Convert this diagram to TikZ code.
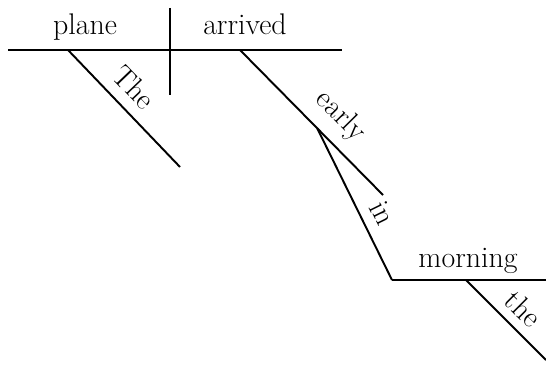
\documentclass[tikz,border=0pt]{standalone}
\usepackage{tikz}
\usetikzlibrary{calc}

\begin{document}
\begin{tikzpicture}[line width=1.1pt, word/.style={font=\fontsize{17}{20}\selectfont, inner sep=2pt}]
\useasboundingbox (0,0) rectangle (10.920,-7.340);
\coordinate (B1) at (0.160,-1.000);
\coordinate (B2) at (6.840,-1.000);
\coordinate (D1) at (3.400,-0.160);
\coordinate (D2) at (3.400,-1.900);
\coordinate (T1) at (1.360,-1.000);
\coordinate (T2) at (3.600,-3.340);
\coordinate (E1) at (4.800,-1.000);
\coordinate (E2) at (7.660,-3.900);
\coordinate (P) at ($(E1)!0.54!(E2)$);
\coordinate (M1) at (7.840,-5.600);
\coordinate (M2) at (10.920,-5.600);
\coordinate (H1) at (9.320,-5.600);
\coordinate (H2) at (10.920,-7.200);
\draw (B1) -- (B2);
\draw (D1) -- (D2);
\node[word, anchor=base] (plane) at (1.700,-0.700) {plane};
\node[word, anchor=base] (arrived) at (4.900,-0.700) {arrived};
\draw (T1) -- (T2) node[word, pos=0.45, sloped, above=4pt] (the1) {The};
\draw (E1) -- (E2) node[word, pos=0.58, sloped, above=4pt] (early) {early};
\draw (P) -- (M1) node[word, pos=0.62, sloped, above=4pt] (in) {in};
\draw (M1) -- (M2);
\node[word, anchor=base] (morning) at (9.360,-5.340) {morning};
\draw (H1) -- (H2) node[word, pos=0.54, sloped, above=3pt] (the2) {the};
\end{tikzpicture}
\end{document}
